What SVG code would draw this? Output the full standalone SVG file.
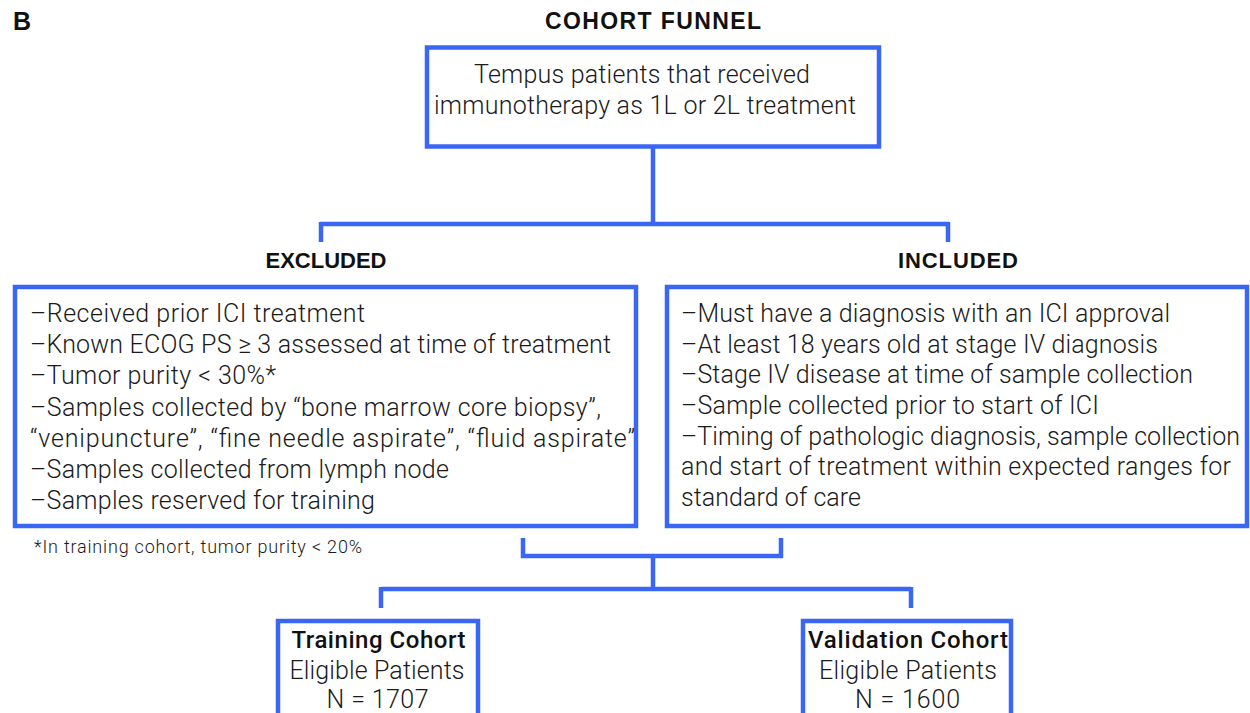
<svg xmlns="http://www.w3.org/2000/svg" width="1250" height="713" viewBox="0 0 1250 713">
<style>
.box{fill:#ffffff;stroke:#3a66f6;stroke-width:4.5}
.con{fill:none;stroke:#3a66f6;stroke-width:4.5;stroke-linejoin:miter;stroke-linecap:butt}
.hd{font-family:"Liberation Sans",Arial,sans-serif;font-weight:bold;fill:#111111}
.tx{font-family:Roboto,"Noto Sans",sans-serif;font-weight:300;font-size:25px;fill:#1a1a1a}
.bt{font-family:Roboto,"Noto Sans",sans-serif;font-weight:500;font-size:24px;fill:#111111}
.fn{font-family:Roboto,"Noto Sans",sans-serif;font-weight:300;font-size:18px;fill:#1a1a1a}
.mid{text-anchor:middle}
</style>
<rect width="1250" height="713" fill="#ffffff"/>
<text class="hd" x="13" y="30" font-size="25">B</text>
<text class="hd mid" x="653" y="29" font-size="23" textLength="216">COHORT FUNNEL</text>
<text class="hd mid" x="326" y="268" font-size="22" textLength="121">EXCLUDED</text>
<text class="hd mid" x="958" y="268" font-size="22" textLength="120">INCLUDED</text>

<g id="connectors">
<path class="con" d="M653,147 V224 M320,224 H949 M321,222 V242 M948,222 V242"/>
<path class="con" d="M523,538 V556 H781 V538 M653,556 V589 M381,589 H911 M381,587 V608 M911,587 V608"/>
</g>

<g id="top">
<rect class="box" x="427" y="47.5" width="452" height="99"/>
<text class="tx mid" x="642" y="83" textLength="336">Tempus patients that received</text>
<text class="tx mid" x="645" y="114" textLength="422">immunotherapy as 1L or 2L treatment</text>
</g>

<g id="excluded">
<rect class="box" x="15" y="287" width="621" height="239"/>
<text class="tx" x="30" y="321.5" textLength="335">–Received prior ICI treatment</text>
<text class="tx" x="30" y="353" textLength="581">–Known ECOG PS ≥ 3 assessed at time of treatment</text>
<text class="tx" x="30" y="384.2" textLength="246">–Tumor purity &lt; 30%*</text>
<text class="tx" x="30" y="415.5" textLength="571">–Samples collected by “bone marrow core biopsy”,</text>
<text class="tx" x="30" y="446.8" textLength="605">“venipuncture”, “fine needle aspirate”, “fluid aspirate”</text>
<text class="tx" x="30" y="478" textLength="419">–Samples collected from lymph node</text>
<text class="tx" x="30" y="509.3" textLength="345">–Samples reserved for training</text>
</g>

<g id="footnote">
<text class="fn" x="34" y="553" textLength="328">*In training cohort, tumor purity &lt; 20%</text>
</g>

<g id="included">
<rect class="box" x="667" y="287" width="580" height="239"/>
<text class="tx" x="681" y="321.5" textLength="489">–Must have a diagnosis with an ICI approval</text>
<text class="tx" x="681" y="352.5" textLength="477">–At least 18 years old at stage IV diagnosis</text>
<text class="tx" x="681" y="383" textLength="512">–Stage IV disease at time of sample collection</text>
<text class="tx" x="681" y="414" textLength="418">–Sample collected prior to start of ICI</text>
<text class="tx" x="681" y="444.5" textLength="559">–Timing of pathologic diagnosis, sample collection</text>
<text class="tx" x="681" y="475" textLength="550">and start of treatment within expected ranges for</text>
<text class="tx" x="681" y="505.5" textLength="180">standard of care</text>
</g>

<g id="training">
<rect class="box" x="278" y="621" width="200" height="120"/>
<text class="bt mid" x="378.5" y="648" textLength="174">Training Cohort</text>
<text class="tx mid" x="377" y="679" textLength="175">Eligible Patients</text>
<text class="tx mid" x="377.5" y="708" textLength="102">N = 1707</text>
</g>

<g id="validation">
<rect class="box" x="803" y="621" width="208" height="120"/>
<text class="bt mid" x="908" y="648" textLength="200">Validation Cohort</text>
<text class="tx mid" x="908" y="679" textLength="178">Eligible Patients</text>
<text class="tx mid" x="907.5" y="708" textLength="105">N = 1600</text>
</g>
</svg>
